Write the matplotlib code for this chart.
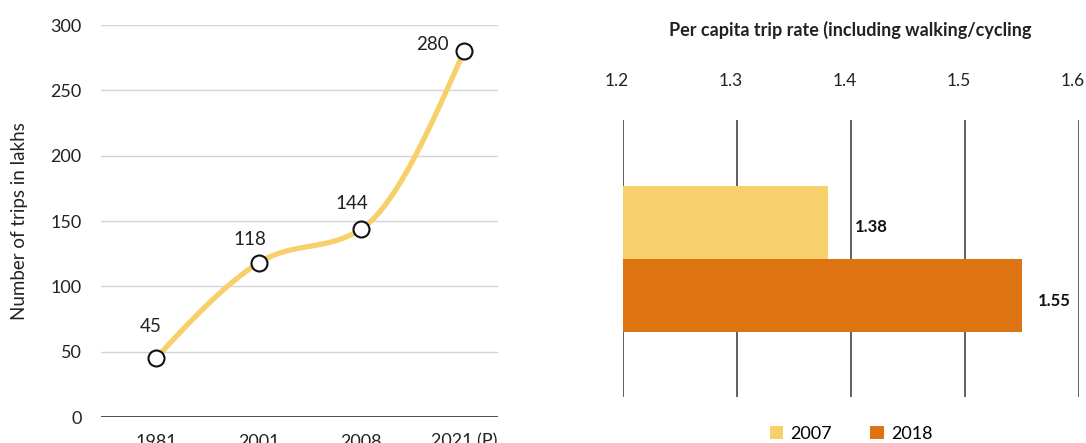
import numpy as np
import matplotlib.pyplot as plt
import matplotlib.transforms as mtransforms
from matplotlib.patches import Patch

# Trips per year (lakhs)
years = ["1981", "2001", "2008", "2021 (P)"]
trips = [45, 118, 144, 280]

# Per capita trip rate
survey_years = ["2007", "2018"]
trip_rate = [1.38, 1.55]
rate_ticks = [1.2, 1.3, 1.4, 1.5, 1.6]

YELLOW = "#F7D06B"
ORANGE = "#DE7411"
TEXT = "#222222"

plt.rcParams["font.family"] = ["Lato", "DejaVu Sans"]


def monotone_x(xs, ys, n=40):
    # monotone cubic (Fritsch-Carlson, as in d3.curveMonotoneX)
    xs = np.asarray(xs, float)
    ys = np.asarray(ys, float)
    h = np.diff(xs)
    s = np.diff(ys) / h
    m = np.zeros_like(ys)
    for i in range(1, len(ys) - 1):
        p = (s[i - 1] * h[i] + s[i] * h[i - 1]) / (h[i - 1] + h[i])
        m[i] = (np.sign(s[i - 1]) + np.sign(s[i])) * min(abs(s[i - 1]), abs(s[i]), 0.5 * abs(p))
    m[0] = (3 * s[0] - m[1]) / 2
    m[-1] = (3 * s[-1] - m[-2]) / 2
    out_x, out_y = [], []
    for i in range(len(h)):
        t = np.linspace(0, 1, n)
        h00 = 2 * t**3 - 3 * t**2 + 1
        h10 = t**3 - 2 * t**2 + t
        h01 = -2 * t**3 + 3 * t**2
        h11 = t**3 - t**2
        out_x.extend(xs[i] + t * h[i])
        out_y.extend(h00 * ys[i] + h10 * h[i] * m[i] + h01 * ys[i + 1] + h11 * h[i] * m[i + 1])
    return np.array(out_x), np.array(out_y)


W, H = 1086, 443
fig = plt.figure(figsize=(W / 100, H / 100), dpi=100)

# ---- left: line chart ----
ax = fig.add_axes([101 / W, 1 - 417 / H, (498 - 101) / W, (417 - 25) / H])
x = np.arange(len(years))
sx, sy = monotone_x(x, trips)
ax.plot(sx, sy, color=YELLOW, lw=3.8, solid_capstyle="round", zorder=3, clip_on=False)
ax.plot(x, trips, "o", ms=11.5, mfc="white", mec="#111111", mew=1.5, zorder=4, clip_on=False)

offsets = [(-4, 23), (-6, 17), (-7, 18), (-23, 5)]
for xi, v, (dx, dy) in zip(x, trips, offsets):
    ax.annotate(str(v), (xi, v), xytext=(dx, dy), textcoords="offset points",
                ha="center", va="center", fontsize=13.5, color=TEXT)

ax.set_xlim(-0.535, 3.33)
ax.set_ylim(0, 300)
ax.set_yticks(range(0, 301, 50))
ax.set_xticks(x)
ax.set_xticklabels(years)
ax.grid(axis="y", color="#d4d4d4", lw=1)
ax.axhline(0, color="#333333", lw=1.2, zorder=2)
for sp in ax.spines.values():
    sp.set_visible(False)
ax.tick_params(axis="y", length=0, pad=14, labelsize=13, labelcolor=TEXT)
ax.tick_params(axis="x", length=0, pad=12, labelsize=13, labelcolor=TEXT)
ax.set_ylabel("Number of trips in lakhs", fontsize=13.5, color=TEXT, labelpad=16)

# ---- right: horizontal bars ----
bx = fig.add_axes([623 / W, 1 - 397 / H, (1079 - 623) / W, (397 - 120) / H])
pos = np.arange(len(survey_years))
bx.barh(pos, [r - rate_ticks[0] for r in trip_rate], left=rate_ticks[0], height=1.0,
        color=[YELLOW, ORANGE], zorder=2)
for t in rate_ticks:
    bx.axvline(t, color="#333333", lw=1.1, zorder=1)
label_dx = [0.023, 0.0135]
for p, r, dx in zip(pos, trip_rate, label_dx):
    bx.text(r + dx, p + 0.07, f"{r:.2f}", ha="left", va="center", fontsize=12,
            fontweight="bold", color="#111111")

bx.set_xlim(rate_ticks[0], rate_ticks[-1])
bx.set_ylim(2.39, -1.4)
bx.set_yticks([])
bx.set_xticks(rate_ticks)
bx.set_xticklabels([f"{t:.1f}" for t in rate_ticks])
bx.xaxis.tick_top()
bx.tick_params(axis="x", length=0, pad=22, labelsize=12.5, labelcolor=TEXT)
shift = mtransforms.ScaledTranslation(-6 / 100, 0, fig.dpi_scale_trans)
for lbl in bx.get_xticklabels():
    lbl.set_transform(lbl.get_transform() + shift)
for sp in bx.spines.values():
    sp.set_visible(False)

fig.text(850 / W, 1 - 30 / H, "Per capita trip rate (including walking/cycling",
         ha="center", va="center", fontsize=13, fontweight="bold", color=TEXT)

handles = [Patch(facecolor=c, label=l) for c, l in zip([YELLOW, ORANGE], survey_years)]
fig.legend(handles=handles, loc="center", bbox_to_anchor=(851 / W, 1 - 434 / H), ncol=2,
           frameon=False, fontsize=13, handlelength=0.75, handleheight=0.75,
           handletextpad=0.4, columnspacing=2.1)

fig.savefig("out.png", dpi=100)
